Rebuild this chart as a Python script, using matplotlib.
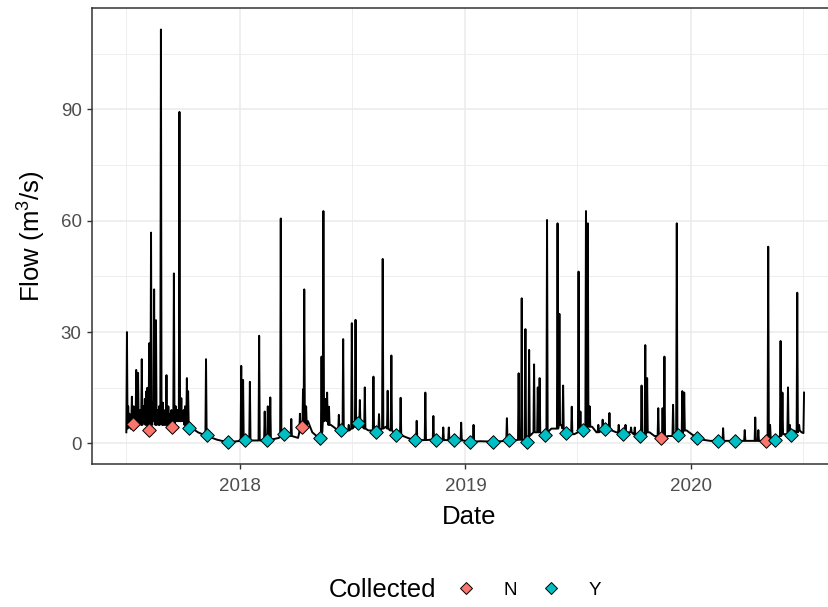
import matplotlib
matplotlib.use("Agg")
import matplotlib.pyplot as plt
import matplotlib.dates as mdates
from matplotlib.lines import Line2D
import numpy as np
import pandas as pd

# ---------------- data ----------------
# baseline flow readings (m3/s)
base_dates = [
    "2017-07-01", "2017-07-05", "2017-07-08", "2017-07-15", "2017-07-22", "2017-07-29",
    "2017-08-03", "2017-08-12", "2017-08-21", "2017-08-30", "2017-09-07", "2017-09-12",
    "2017-09-20", "2017-09-30", "2017-10-04", "2017-10-11", "2017-10-18", "2017-10-25",
    "2017-11-01", "2017-11-08", "2017-11-15", "2017-11-25", "2017-12-05", "2017-12-13",
    "2017-12-22", "2018-01-01", "2018-01-09", "2018-01-20", "2018-01-30", "2018-02-13",
    "2018-02-25", "2018-03-05", "2018-03-13", "2018-03-20", "2018-03-30", "2018-04-05",
    "2018-04-11", "2018-04-21", "2018-04-28", "2018-05-05", "2018-05-10", "2018-05-28",
    "2018-06-05", "2018-06-13", "2018-06-20", "2018-06-30", "2018-07-04", "2018-07-11",
    "2018-07-18", "2018-07-28", "2018-08-09", "2018-08-17", "2018-08-25", "2018-09-01",
    "2018-09-11", "2018-09-22", "2018-10-01", "2018-10-11", "2018-10-22", "2018-11-05",
    "2018-11-14", "2018-11-30", "2018-12-13", "2018-12-28", "2019-01-09", "2019-01-25",
    "2019-02-14", "2019-02-28", "2019-03-13", "2019-03-23", "2019-04-05", "2019-04-11",
    "2019-04-18", "2019-04-25", "2019-05-06", "2019-05-10", "2019-05-20", "2019-06-05",
    "2019-06-13", "2019-06-26", "2019-07-11", "2019-07-25", "2019-08-01", "2019-08-15",
    "2019-08-26", "2019-09-02", "2019-09-13", "2019-09-22", "2019-09-30", "2019-10-10",
    "2019-10-16", "2019-10-26", "2019-11-03", "2019-11-13", "2019-11-25", "2019-12-06",
    "2019-12-11", "2019-12-25", "2020-01-02", "2020-01-10", "2020-01-20", "2020-02-01",
    "2020-02-14", "2020-03-01", "2020-03-12", "2020-03-24", "2020-04-08", "2020-04-25",
    "2020-05-01", "2020-05-12", "2020-05-16", "2020-05-20", "2020-06-01", "2020-06-11",
    "2020-06-15", "2020-06-28", "2020-07-01",
]
base_flow = [
    3.0, 6.0, 4.0, 7.0, 5.0, 8.0,
    5.0, 7.0, 5.0, 6.0, 4.0, 5.0,
    6.0, 7.0, 5.0, 4.1, 3.8, 3.0,
    2.5, 2.3, 1.6, 1.0, 0.6, 0.5,
    0.5, 0.7, 0.9, 0.8, 0.8, 0.8,
    1.2, 1.5, 2.6, 2.3, 1.8, 1.5,
    4.3, 6.0, 3.0, 2.0, 1.6, 5.0,
    4.0, 3.5, 3.2, 3.5, 4.5, 5.4,
    4.5, 3.5, 3.2, 3.8, 4.5, 3.5,
    2.3, 2.0, 1.4, 0.9, 0.9, 1.0,
    0.9, 0.9, 0.9, 0.8, 0.5, 0.6,
    0.5, 0.6, 0.9, 0.8, 1.0, 0.5,
    2.5, 3.0, 2.5, 2.3, 4.0, 5.0,
    2.9, 2.5, 3.5, 4.5, 3.0, 3.8,
    3.5, 3.0, 2.6, 3.0, 2.5, 2.0,
    2.5, 3.0, 2.0, 1.6, 2.0, 2.0,
    2.3, 3.5, 2.5, 1.6, 1.0, 0.7,
    0.7, 0.7, 0.7, 0.7, 0.7, 0.7,
    0.7, 1.5, 0.9, 1.5, 2.5, 2.3,
    3.5, 3.0, 2.8,
]

# storm events: peak day, peak flow, flow on the days either side
storm_dates = [
    "2017-07-02", "2017-07-04", "2017-07-06", "2017-07-10", "2017-07-13", "2017-07-17",
    "2017-07-20", "2017-07-23", "2017-07-26", "2017-07-29", "2017-07-31", "2017-08-02",
    "2017-08-04", "2017-08-07", "2017-08-10", "2017-08-13", "2017-08-15", "2017-08-18",
    "2017-08-21", "2017-08-23", "2017-08-26", "2017-08-29", "2017-08-31", "2017-09-04",
    "2017-09-07", "2017-09-09", "2017-09-12", "2017-09-16", "2017-09-19", "2017-09-22",
    "2017-09-25", "2017-09-28", "2017-10-02", "2017-10-04", "2017-10-07", "2017-10-09",
    "2017-11-07", "2018-01-03", "2018-01-06", "2018-01-17", "2018-02-01",
    "2018-02-10", "2018-02-15", "2018-02-19", "2018-03-08", "2018-03-25", "2018-04-08",
    "2018-04-13", "2018-04-15", "2018-04-18", "2018-05-13", "2018-05-16", "2018-05-19",
    "2018-05-22", "2018-05-25", "2018-06-10", "2018-06-17", "2018-06-26", "2018-07-01",
    "2018-07-07", "2018-07-14", "2018-07-22", "2018-08-05", "2018-08-14", "2018-08-20",
    "2018-08-28", "2018-09-03", "2018-09-18", "2018-10-14", "2018-10-28", "2018-11-10",
    "2018-11-26", "2018-12-05", "2018-12-25", "2019-01-14", "2019-03-09", "2019-03-28",
    "2019-04-02", "2019-04-08", "2019-04-14", "2019-04-22", "2019-04-28", "2019-05-01",
    "2019-05-13", "2019-05-30", "2019-06-02", "2019-06-08", "2019-06-22", "2019-07-03",
    "2019-07-06", "2019-07-15", "2019-07-18", "2019-07-21", "2019-08-04", "2019-08-11",
    "2019-08-22", "2019-09-06", "2019-09-17", "2019-09-26", "2019-10-02", "2019-10-13",
    "2019-10-19", "2019-10-22", "2019-11-09", "2019-11-16", "2019-11-19", "2019-12-03",
    "2019-12-09", "2019-12-18", "2019-12-21", "2020-02-22", "2020-03-28", "2020-04-14",
    "2020-04-19", "2020-05-05", "2020-05-08", "2020-05-25", "2020-05-28", "2020-06-06",
    "2020-06-09", "2020-06-21", "2020-06-24", "2020-07-02",
]
storm_peak = [
    30.0, 10.0, 8.0, 12.6, 10.0, 19.8,
    19.0, 9.0, 22.7, 10.0, 12.0, 14.0,
    15.0, 27.0, 56.8, 11.0, 41.5, 33.2,
    9.0, 10.0, 111.5, 11.0, 9.0, 18.4,
    10.0, 8.0, 9.0, 45.8, 10.0, 9.0,
    89.3, 12.2, 9.0, 10.0, 17.6, 14.1,
    22.7, 20.9, 17.1, 16.6, 29.0,
    8.6, 10.0, 12.4, 60.6, 6.6, 8.0,
    14.6, 41.5, 10.0, 23.4, 62.6, 12.0,
    13.7, 9.9, 7.7, 28.1, 5.0, 32.4,
    33.3, 11.7, 15.1, 18.0, 7.9, 49.7,
    14.2, 23.7, 12.3, 6.1, 13.7, 7.4,
    4.3, 4.3, 5.6, 5.0, 6.8, 18.9,
    39.1, 30.8, 25.2, 21.3, 15.1, 17.6,
    60.2, 59.3, 34.9, 15.6, 9.9, 46.3,
    8.6, 62.6, 59.3, 10.0, 5.0, 6.4,
    8.2, 5.0, 5.0, 4.3, 4.3, 15.6,
    26.5, 17.6, 9.5, 9.5, 23.4, 10.4,
    59.3, 14.1, 13.7, 4.1, 3.6, 7.0,
    3.6, 53.0, 5.0, 27.6, 13.7, 15.1,
    5.0, 40.6, 5.0, 13.7,
]
storm_side = [
    3.0, 4.0, 5.0, 5.0, 4.0, 5.0,
    5.0, 6.0, 5.0, 6.0, 6.0, 5.0,
    5.0, 4.0, 6.0, 5.0, 6.0, 5.0,
    6.0, 5.0, 6.0, 5.0, 5.0, 5.0,
    5.0, 5.0, 6.0, 5.0, 6.0, 6.0,
    6.0, 6.0, 6.0, 5.0, 5.0, 5.0,
    2.4, 0.8, 0.8, 0.8, 0.8,
    0.8, 0.8, 1.0, 2.0, 2.0, 3.0,
    4.5, 5.0, 5.0, 3.0, 6.0, 7.0,
    6.0, 5.0, 3.5, 3.5, 3.5, 4.0,
    4.5, 4.5, 4.0, 3.5, 3.5, 4.0,
    4.0, 3.5, 2.0, 0.9, 0.9, 0.9,
    0.9, 0.9, 0.8, 0.5, 0.8, 1.0,
    1.0, 1.0, 2.0, 3.0, 3.0, 3.0,
    3.0, 4.0, 5.0, 4.0, 2.5, 3.0,
    3.5, 4.0, 4.5, 4.5, 3.0, 3.5,
    3.5, 3.0, 2.8, 3.0, 2.5, 2.2,
    2.5, 3.0, 2.0, 1.8, 1.8, 2.0,
    2.2, 3.0, 3.5, 0.7, 0.7, 0.7,
    0.7, 0.8, 1.5, 2.0, 2.5, 2.5,
    2.5, 3.0, 3.5, 2.8,
]

# water-quality sample visits
sample_dates = [
    "2017-07-11", "2017-08-07", "2017-09-13", "2017-10-11", "2017-11-08", "2017-12-13",
    "2018-01-09", "2018-02-13", "2018-03-13", "2018-04-11", "2018-05-10", "2018-06-13",
    "2018-07-11", "2018-08-09", "2018-09-11", "2018-10-11", "2018-11-14", "2018-12-13",
    "2019-01-09", "2019-02-14", "2019-03-13", "2019-04-11", "2019-05-10", "2019-06-13",
    "2019-07-11", "2019-08-15", "2019-09-13", "2019-10-10", "2019-11-13", "2019-12-11",
    "2020-01-10", "2020-02-14", "2020-03-12", "2020-05-01", "2020-05-16", "2020-06-11",
]
sample_flow = [
    5.2, 3.5, 4.5, 4.1, 2.3, 0.5,
    0.9, 0.8, 2.6, 4.3, 1.6, 3.5,
    5.4, 3.2, 2.3, 0.9, 0.9, 0.9,
    0.5, 0.5, 0.9, 0.5, 2.3, 2.9,
    3.5, 3.8, 2.6, 2.0, 1.6, 2.3,
    1.6, 0.7, 0.7, 0.7, 0.9, 2.3,
]
sample_collected = [
    "N", "N", "N", "Y", "Y", "Y",
    "Y", "Y", "Y", "N", "Y", "Y",
    "Y", "Y", "Y", "Y", "Y", "Y",
    "Y", "Y", "Y", "Y", "Y", "Y",
    "Y", "Y", "Y", "Y", "N", "Y",
    "Y", "Y", "Y", "N", "Y", "Y",
]
collected_levels = ["N", "Y"]
collected_colors = {"N": "#F8766D", "Y": "#00BFC4"}

# ---------------- assemble flow series ----------------
series = {}
for d, v in zip(base_dates, base_flow):
    series[pd.Timestamp(d)] = v
storm_ts = [pd.Timestamp(d) for d in storm_dates]
storm_set = set(storm_ts)
for d, p, s in zip(storm_ts, storm_peak, storm_side):
    for nb in (d - pd.Timedelta(days=1), d + pd.Timedelta(days=1)):
        if nb not in storm_set and nb <= storm_ts[-1]:
            series[nb] = s
for d, p in zip(storm_ts, storm_peak):
    series[d] = p
flow = pd.Series(series).sort_index()

# ---------------- figure ----------------
plt.rcParams["font.family"] = ["Liberation Sans", "DejaVu Sans"]
plt.rcParams["mathtext.fontset"] = "custom"
plt.rcParams["mathtext.rm"] = "Liberation Sans"
plt.rcParams["mathtext.it"] = "Liberation Sans:italic"

W, H = 829, 607
fig = plt.figure(figsize=(W / 100, H / 100), dpi=100)

px_left, px_right, px_top, px_bottom = 92, 846, 8, 463.5
ax = fig.add_axes([px_left / W, 1 - px_bottom / H,
                   (px_right - px_left) / W, (px_bottom - px_top) / H])

ref = mdates.date2num(pd.Timestamp("2018-01-01"))
ppd = 0.6178  # pixels per day
ax.set_xlim(ref + (px_left - 240) / ppd, ref + (px_right - 240) / ppd)
ax.set_ylim(-5.4, 117.3)

ax.set_axisbelow(True)
ax.xaxis.set_major_locator(mdates.YearLocator())
ax.xaxis.set_major_formatter(mdates.DateFormatter("%Y"))
ax.xaxis.set_minor_locator(mdates.MonthLocator(bymonth=7))
ax.set_yticks([0, 30, 60, 90])
ax.set_yticks([15, 45, 75, 105], minor=True)

ax.grid(which="major", color="#EBEBEB", linewidth=1.1)
ax.grid(which="minor", color="#EBEBEB", linewidth=0.6)

for sp in ax.spines.values():
    sp.set_color("#333333")
    sp.set_linewidth(1.1)

ax.tick_params(which="major", length=3.5, width=1.0, color="#333333",
               labelsize=13.5, labelcolor="#4D4D4D")
ax.tick_params(axis="x", which="major", pad=7)
ax.tick_params(axis="y", which="major", pad=4)
ax.tick_params(which="minor", length=0)

ax.plot(flow.index, flow.values, color="black", linewidth=1.4, zorder=2)

for lvl in collected_levels:
    idx = [i for i, c in enumerate(sample_collected) if c == lvl]
    ax.scatter([pd.Timestamp(sample_dates[i]) for i in idx],
               [sample_flow[i] for i in idx],
               marker="D", s=48, facecolor=collected_colors[lvl],
               edgecolor="black", linewidth=0.7, zorder=3)

ax.set_xlabel("Date", fontsize=18.5, labelpad=7)
ax.set_ylabel("Flow (m$^3$/s)", fontsize=18.5, labelpad=9)

# legend (bottom, horizontal, title to the left)
handles = [Line2D([], [], linestyle="none", marker="D", markersize=6.5,
                  markerfacecolor=collected_colors[l], markeredgecolor="black",
                  markeredgewidth=0.7) for l in collected_levels]
leg = fig.legend(handles, collected_levels, loc="center left",
                 bbox_to_anchor=(455 / W, 1 - 590 / H), ncol=2, frameon=False,
                 fontsize=13.5, handlelength=1.2, handletextpad=1.4,
                 columnspacing=1.2, borderaxespad=0, borderpad=0)
fig.text(329 / W, 1 - 590 / H, "Collected", fontsize=18.5, ha="left", va="center")

fig.savefig("out.png", dpi=100)
